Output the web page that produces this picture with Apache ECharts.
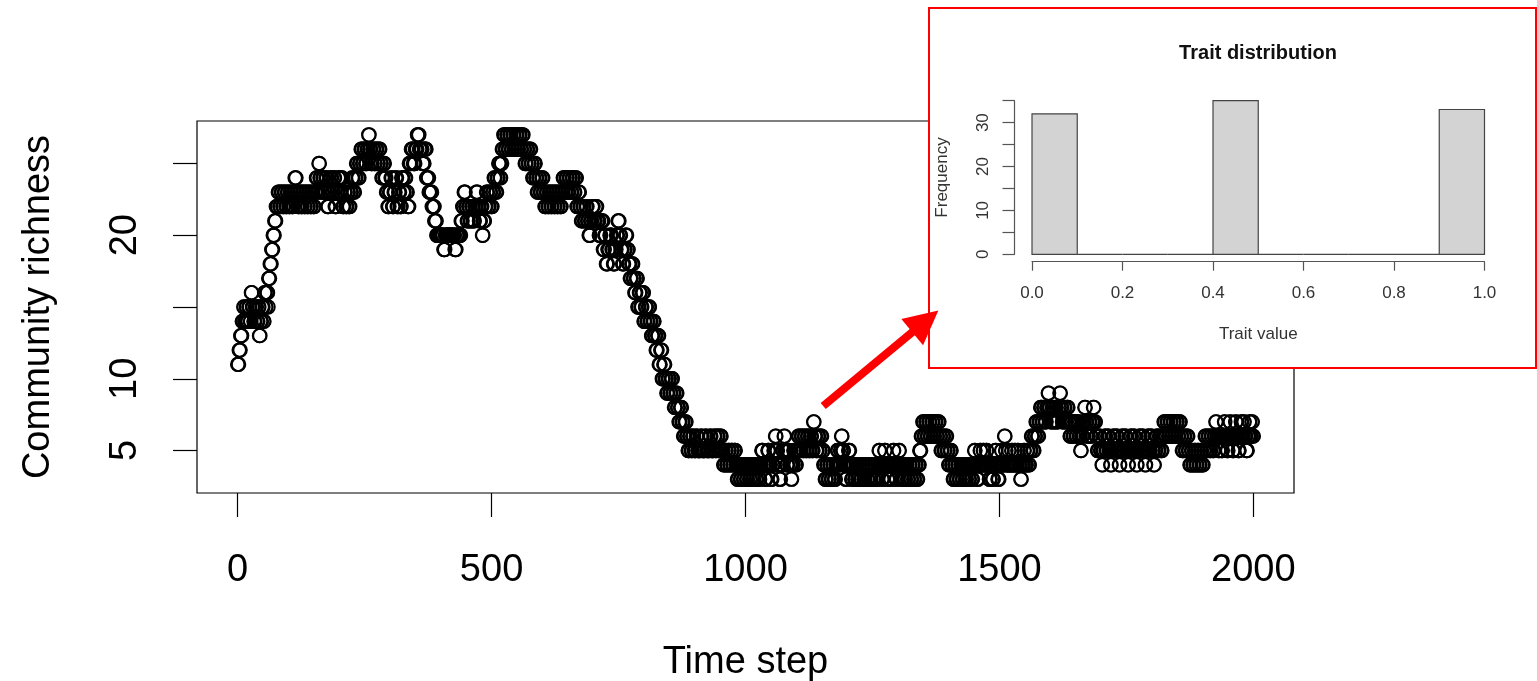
<!DOCTYPE html>
<html><head><meta charset="utf-8">
<script src="https://cdn.jsdelivr.net/npm/echarts@6/dist/echarts.min.js"></script>
<style>html,body{margin:0;padding:0;background:#fff}#c{width:1537px;height:681px}</style>
</head><body><div id="c"></div>
<script>
// Community richness: [time step at which the value changes, new value]
const richnessChanges = [
  [0,11],[3,12],[6,13],[9,14],[12,15],[14,14],[17,15],[19,14],[22,15],[25,14],[27,16],[29,15],[32,14],[35,15],
  [38,14],[41,15],[43,13],[45,14],[48,15],[51,14],[53,16],[55,15],[57,16],[60,15],[61,17],[64,18],[67,19],[70,20],
  [73,21],
  [76,22],[80,23],[83,22],[86,23],[89,22],[92,23],[95,22],[98,23],[101,22],[104,23],[107,22],[110,23],[113,24],
  [116,23],[119,22],[122,23],[125,22],[128,23],[131,22],[134,23],[137,22],[140,23],[143,22],[146,23],[149,22],
  [152,23],[155,24],[158,23],[160,25],[162,24],[165,23],[168,24],[171,23],[174,24],[177,22],[180,23],[183,24],
  [186,23],[189,24],[192,22],[195,23],[198,24],[201,23],[204,24],[207,22],[210,23],[213,22],[216,23],[219,22],
  [222,23],[225,24],[228,23],[231,24],
  [234,25],[237,24],[240,25],[243,26],[246,25],[249,26],[252,25],[255,26],[258,27],[260,26],[263,25],[266,26],
  [269,25],[272,26],[275,25],[278,26],[281,25],[284,24],[287,25],[290,24],[293,23],[296,22],[299,23],[302,24],
  [305,22],[308,23],[311,24],[314,22],[317,23],[320,22],[323,24],[326,23],[329,24],[332,23],[335,22],
  [338,25],[342,26],[346,25],[350,26],[354,27],[358,26],[364,25],[368,26],[372,24],[377,23],[383,22],[388,21],
  [392,20],[406,19],[409,20],[428,19],[431,20],
  [440,21],[443,22],[446,23],[449,22],[452,21],[455,22],[458,21],[461,22],[464,21],[467,22],[470,23],[473,22],
  [476,21],[479,22],[482,20],[484,21],[487,22],[490,23],[493,22],[496,23],[499,22],[502,23],[505,24],[508,23],
  [511,24],[514,25],[517,24],[519,25],
  [521,26],[524,27],[527,26],[530,27],[533,26],[536,27],[539,26],[542,27],[545,26],[548,27],[551,26],[554,27],
  [557,26],[560,27],[563,26],[566,25],[569,26],[572,25],[575,26],[578,25],[581,24],[584,25],[587,24],
  [590,23],[593,24],[596,23],[599,24],[602,23],[605,22],[608,23],[611,22],[614,23],[617,22],[620,23],[623,22],
  [626,23],[629,22],[632,23],[635,22],[638,23],[641,24],[644,23],[647,24],[650,23],[653,24],[656,23],[659,24],
  [662,23],[665,24],[668,22],[671,23],[674,22],[677,21],[680,22],[683,21],
  [686,22],[689,21],[692,20],[695,21],[698,22],[701,21],[705,22],[708,21],[712,20],[716,21],[720,19],[723,20],
  [726,18],[729,19],[733,20],[737,19],[740,18],[743,19],[746,20],[749,21],[752,20],[755,19],[758,18],[761,19],
  [764,20],[767,19],[770,18],
  [773,17],[776,18],[779,17],[782,16],[785,17],[788,15],[791,16],[794,15],[797,16],[800,14],[803,15],[806,14],
  [809,15],[812,14],[815,13],[818,14],[821,13],[824,12],[827,13],[830,11],[833,12],[836,10],[839,11],[842,10],
  [845,9],[848,10],[851,9],[854,10],[857,9],[860,8],[863,9],[866,8],[869,7],[872,8],[875,7],[878,6],[881,7],
  [884,6],
  [887,5],[890,6],[893,5],[896,6],[899,5],[903,6],[906,5],[912,6],[915,5],[921,6],[924,5],[930,6],[933,5],
  [938,6],[941,5],[944,6],[947,5],[950,6],[953,5],[957,4],[960,5],[963,4],[966,5],[969,4],[972,5],[975,4],
  [978,5],[981,4],[984,3],[987,4],[990,3],[993,4],[996,3],
  [999,4],[1002,3],[1005,4],[1008,3],[1011,4],[1014,3],[1017,4],[1020,3],[1023,4],[1026,3],[1029,4],[1032,5],
  [1035,4],[1038,3],[1041,4],[1044,5],[1047,4],[1050,3],[1053,4],[1056,5],[1059,6],[1061,5],[1064,4],[1067,3],
  [1070,4],[1073,5],[1076,6],[1078,5],[1081,4],[1084,5],[1087,4],[1090,3],[1092,4],[1095,5],[1098,4],[1101,5],
  [1104,6],[1107,5],[1110,6],[1113,5],[1116,6],[1119,5],[1122,6],[1125,5],[1128,6],[1131,5],[1134,7],[1136,6],
  [1139,5],[1142,6],[1145,5],[1148,6],[1151,5],[1154,4],[1157,3],
  [1160,4],[1163,3],[1166,4],[1169,3],[1172,4],[1175,3],[1178,4],[1181,5],[1184,4],[1187,5],[1189,6],[1191,5],
  [1194,4],[1197,3],[1200,4],[1203,5],[1206,4],[1209,3],[1212,4],[1215,3],[1218,4],[1221,3],[1224,4],[1227,3],
  [1230,4],[1233,3],[1236,4],[1239,3],[1242,4],[1245,3],[1248,4],[1251,3],[1254,4],[1257,3],[1260,4],[1263,5],
  [1265,4],[1268,3],[1271,4],[1274,5],[1276,4],[1279,3],[1282,4],[1285,3],[1288,4],[1291,5],[1293,4],[1296,3],
  [1299,4],[1302,5],[1304,4],[1307,3],[1310,4],[1313,3],[1316,4],[1319,3],[1322,4],[1325,3],[1328,4],[1331,3],
  [1334,4],[1337,3],[1340,4],[1343,5],
  [1346,6],[1349,7],[1352,6],[1355,7],[1358,6],[1361,7],[1364,6],[1367,7],[1370,6],[1373,7],[1376,6],[1379,7],
  [1382,6],[1385,5],[1388,6],[1391,5],[1394,6],[1397,5],[1400,4],[1403,5],[1406,4],[1409,3],[1412,4],[1415,3],
  [1418,4],[1421,3],[1424,4],[1427,3],[1430,4],[1433,3],[1436,4],[1439,3],[1442,4],[1445,3],[1448,4],[1451,5],
  [1453,4],[1456,3],[1459,4],[1462,5],[1464,4],[1468,5],[1470,4],[1474,5],[1476,4],[1480,3],[1483,4],[1486,3],
  [1489,4],[1492,5],[1494,4],[1497,3],[1500,4],[1504,5],[1506,4],[1510,6],[1512,5],[1514,4],[1518,5],[1520,4],
  [1524,5],[1526,4],[1530,5],[1532,4],[1536,5],[1538,4],[1542,3],[1544,4],[1548,5],[1550,4],[1554,5],[1557,4],
  [1560,5],[1563,6],[1566,5],[1569,6],[1572,7],[1575,6],[1578,7],[1581,8],[1584,7],[1587,8],[1590,7],[1593,8],
  [1596,9],[1598,8],[1601,7],[1604,8],[1607,7],[1610,8],[1613,7],[1616,8],[1619,9],[1621,8],[1624,7],[1627,8],
  [1630,7],[1633,8],[1636,7],[1639,6],[1642,7],[1645,6],[1648,7],[1651,6],[1654,7],[1657,6],[1660,5],[1662,6],
  [1665,7],[1668,8],[1670,7],[1673,6],[1676,7],[1679,6],[1682,7],[1685,8],[1687,7],
  [1690,6],[1693,5],[1696,6],[1699,5],[1702,4],[1704,5],[1707,6],[1710,5],[1713,6],[1716,5],[1719,4],[1721,5],
  [1724,6],[1727,5],[1730,6],[1733,5],[1736,4],[1738,5],[1741,6],[1744,5],[1747,6],[1750,5],[1753,4],[1755,5],
  [1758,6],[1761,5],[1764,6],[1767,5],[1770,4],[1772,5],[1775,6],[1778,5],[1781,6],[1784,5],[1787,4],[1789,5],
  [1792,6],[1795,5],[1798,6],[1801,5],[1804,4],[1806,5],[1809,6],[1812,5],[1815,6],[1818,5],[1821,6],[1824,7],
  [1827,6],[1830,7],[1833,6],[1836,7],[1839,6],[1842,7],[1845,6],[1848,7],[1851,6],[1854,7],[1857,6],[1860,5],
  [1863,6],[1866,5],[1869,6],[1872,5],[1875,4],[1878,5],[1881,4],[1884,5],[1887,4],[1890,5],[1893,4],[1896,5],
  [1899,4],[1902,5],[1905,6],[1908,5],[1911,6],[1914,5],[1917,6],[1920,5],[1923,6],[1926,7],[1928,6],[1931,5],
  [1934,6],[1937,5],[1940,6],[1943,7],[1945,6],[1948,5],[1951,6],[1954,7],[1956,6],[1959,5],[1962,6],[1965,7],
  [1967,6],[1970,5],[1973,6],[1976,7],[1978,6],[1981,7],[1983,6],[1986,5],[1989,6],[1992,7],[1994,6],[1997,7],
  [1999,6]
];
const lastStep = 2000;
const xTickValues = [0, 500, 1000, 1500, 2000];
const yTickValues = [5, 10, 15, 20, 25];
const yLabelValues = [5, 10, 20];

// Inset histogram
const traitBinStarts = [0, 0.1, 0.2, 0.3, 0.4, 0.5, 0.6, 0.7, 0.8, 0.9];
const traitBinWidth = 0.1;
const traitCounts = [32, 0, 0, 0, 35, 0, 0, 0, 0, 33];

// Red arrow (data units of the main plot)
const arrowFrom = [1153, 8.1];
const arrowTo = [1354, 14.0];

const richness = [];
let k = 0;
for (let t = 0; t <= lastStep; t++) {
  while (k + 1 < richnessChanges.length && richnessChanges[k + 1][0] <= t) k++;
  richness.push([t, richnessChanges[k][1]]);
}
const vals = richnessChanges.map(d => d[1]);
const vMin = Math.min(...vals), vMax = Math.max(...vals);
const yMin = vMin - 0.04 * (vMax - vMin), yMax = vMax + 0.04 * (vMax - vMin);
const xMin = 0 - 0.04 * lastStep, xMax = lastStep + 0.04 * lastStep;

const FONT = 'Liberation Sans, Arial, sans-serif';
const chart = echarts.init(document.getElementById('c'), null, {renderer: 'canvas'});
chart.setOption({
  animation: false,
  backgroundColor: '#fff',
  textStyle: {fontFamily: FONT},
  title: {
    text: 'Trait distribution', left: 1258, top: 43, textAlign: 'center', padding: 0, z: 10,
    textStyle: {fontFamily: FONT, fontSize: 20, fontWeight: 'bold', color: '#111'}
  },
  grid: [
    {left: 197, top: 121, width: 1097, height: 372, show: true, borderColor: '#000', borderWidth: 1.2, backgroundColor: 'transparent', outerBoundsMode: 'none'},
    {left: 1032, top: 100.7, width: 452.5, height: 153.6, outerBoundsMode: 'none', z: 6},
    {left: 929, top: 8, width: 607, height: 360, show: true, backgroundColor: '#fff', borderColor: '#ff0000', borderWidth: 2, z: 5, outerBoundsMode: 'none'}
  ],
  xAxis: [
    {
      gridIndex: 0, type: 'value', min: xMin, max: xMax,
      axisLine: {show: false, onZero: false}, splitLine: {show: false},
      axisTick: {show: true, customValues: xTickValues, length: 24, lineStyle: {color: '#000', width: 1.2}},
      axisLabel: {customValues: xTickValues, fontSize: 38, color: '#000', margin: 59, fontFamily: FONT, formatter: v => String(v)},
      name: 'Time step', nameLocation: 'middle', nameGap: 151,
      nameTextStyle: {fontSize: 38, color: '#000', fontFamily: FONT}
    },
    {
      gridIndex: 1, type: 'value', min: 0, max: 1, interval: 0.2, offset: 7.4, z: 6,
      axisLine: {show: true, onZero: false, lineStyle: {color: '#555', width: 1.2}}, splitLine: {show: false},
      axisTick: {show: true, length: 9, lineStyle: {color: '#555', width: 1.2}},
      axisLabel: {fontSize: 17, color: '#333', margin: 23, fontFamily: FONT, formatter: v => v.toFixed(1)},
      name: 'Trait value', nameLocation: 'middle', nameGap: 64,
      nameTextStyle: {fontSize: 17, color: '#333', fontFamily: FONT}
    }
  ],
  yAxis: [
    {
      gridIndex: 0, type: 'value', min: yMin, max: yMax,
      axisLine: {show: false, onZero: false}, splitLine: {show: false},
      axisTick: {show: true, customValues: yTickValues, length: 24, lineStyle: {color: '#000', width: 1.2}},
      axisLabel: {customValues: yLabelValues, rotate: 90, fontSize: 38, color: '#000', margin: 52, fontFamily: FONT, formatter: v => String(v)},
      name: 'Community richness', nameLocation: 'middle', nameGap: 139, nameRotate: 90,
      nameTextStyle: {fontSize: 38, color: '#000', fontFamily: FONT}
    },
    {
      gridIndex: 1, type: 'value', min: 0, max: 35, interval: 5, offset: 17.5, z: 6,
      axisLine: {show: true, onZero: false, lineStyle: {color: '#555', width: 1.2}}, splitLine: {show: false},
      axisTick: {show: true, length: 12, lineStyle: {color: '#555', width: 1.2}},
      axisLabel: {rotate: 90, fontSize: 17, color: '#333', margin: 23, fontFamily: FONT,
        formatter: v => (v % 10 === 0 ? String(v) : '')},
      name: 'Frequency', nameLocation: 'middle', nameGap: 64, nameRotate: 90,
      nameTextStyle: {fontSize: 17, color: '#333', fontFamily: FONT}
    }
  ],
  series: [
    {
      type: 'scatter', xAxisIndex: 0, yAxisIndex: 0, data: richness,
      symbol: 'circle', symbolSize: 13.5, silent: true,
      itemStyle: {color: 'transparent', borderColor: '#000', borderWidth: 1.8, opacity: 1},
      markLine: {
        silent: true, animation: false, symbol: ['none', 'triangle'], symbolSize: 34,
        label: {show: false},
        lineStyle: {color: '#ff0000', width: 8, type: 'solid', opacity: 1},
        data: [[{coord: arrowFrom}, {coord: arrowTo}]]
      }
    },
    {
      type: 'custom', xAxisIndex: 1, yAxisIndex: 1, z: 10, silent: true,
      data: traitBinStarts.map((s, i) => [s, s + traitBinWidth, traitCounts[i]]),
      renderItem: function (params, api) {
        const p0 = api.coord([api.value(0), api.value(2)]);
        const p1 = api.coord([api.value(1), 0]);
        return {
          type: 'rect',
          shape: {x: p0[0], y: p0[1], width: p1[0] - p0[0], height: p1[1] - p0[1]},
          style: {fill: '#d3d3d3', stroke: '#444', lineWidth: 1.2}
        };
      }
    }
  ]
});
</script></body></html>
